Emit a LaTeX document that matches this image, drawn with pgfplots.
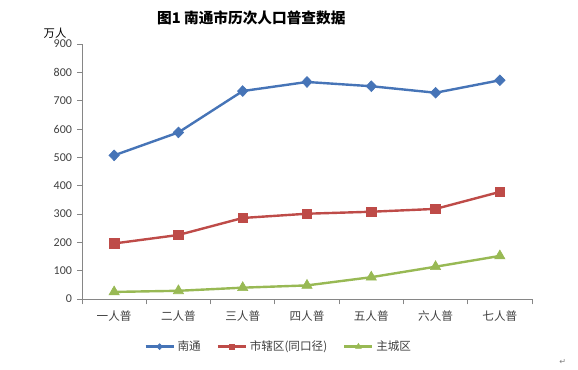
\documentclass[border=0pt]{standalone}
\usepackage{pgfplots}
\pgfplotsset{compat=1.18}
\usepackage{fontspec}
\setmainfont{Carlito}
\newfontfamily\cjk{Noto Sans CJK SC}
\newfontfamily\dejavu{DejaVu Sans}
\definecolor{cblue}{HTML}{4674B7}
\definecolor{cred}{HTML}{BE4B48}
\definecolor{cgreen}{HTML}{98B954}
\definecolor{axgray}{HTML}{868686}
\definecolor{txt}{HTML}{404040}
\begin{document}
\begin{tikzpicture}
\path[use as bounding box] (0,0) rectangle (433.5pt,276.75pt);
\node[font=\cjk\bfseries\fontsize{11}{13}\selectfont] at (188.5pt,263.5pt) {图1 南通市历次人口普查数据};
\node[font=\cjk\fontsize{8.5}{10}\selectfont] at (41.25pt,251.5pt) {万人};
\node[font=\dejavu\fontsize{6}{7}\selectfont, text=gray] at (422pt,5.5pt) {↵};
\begin{axis}[
  at={(61.5pt,52.5pt)}, anchor=south west,
  scale only axis, width=337.5pt, height=191.25pt,
  xmin=-0.5, xmax=6.5, ymin=0, ymax=900,
  axis x line*=bottom, axis y line*=left,
  axis line style={axgray, -, line width=0.6pt},
  every tick/.style={axgray, line width=0.6pt},
  tick align=outside,
  xtick={0,...,6},
  xticklabels={一人普,二人普,三人普,四人普,五人普,六人普,七人普},
  major x tick style={draw=none},
  minor xtick={-0.5,0.5,...,6.5},
  minor tick length=4pt,
  ytick={0,100,...,900},
  major tick length=3.5pt,
  /pgf/number format/assume math mode=true,
  yticklabel style={font=\fontsize{9}{10}\selectfont, text=txt, xshift=-0.5pt},
  xticklabel style={font=\cjk\fontsize{8.7}{10}\selectfont, text=txt, yshift=-2pt},
  legend style={at={(axis description cs:0.438,-0.187)}, anchor=center, draw=none,
    font=\cjk\fontsize{8.7}{10}\selectfont, text=txt, legend columns=3,
    /tikz/every even column/.append style={column sep=10pt}},
  legend image code/.code={\draw[mark repeat=2,mark phase=2] plot coordinates {(0pt,0pt)(10.5pt,0pt)(21pt,0pt)};},
  legend image post style={every mark/.append style={scale=0.55}},
]
\addplot[cblue, line width=1.8pt, mark=diamond*, mark size=4pt, mark options={solid, fill=cblue, draw=cblue, xscale=1.3, line width=0.5pt}]
  coordinates {(0,507)(1,588)(2,734)(3,766)(4,751)(5,728)(6,772)};
\addlegendentry{南通}
\addplot[cred, line width=1.8pt, mark=square*, mark size=3.6pt, mark options={solid, fill=cred, draw=cred, line width=0.5pt}]
  coordinates {(0,196)(1,226)(2,286)(3,301)(4,308)(5,318)(6,378)};
\addlegendentry{市辖区(同口径)}
\addplot[cgreen, line width=1.8pt, mark=triangle*, mark size=4.4pt, mark options={solid, fill=cgreen, draw=cgreen, line width=0.5pt}]
  coordinates {(0,25)(1,29)(2,40)(3,48)(4,77)(5,114)(6,152)};
\addlegendentry{主城区}
\end{axis}
\end{tikzpicture}
\end{document}
